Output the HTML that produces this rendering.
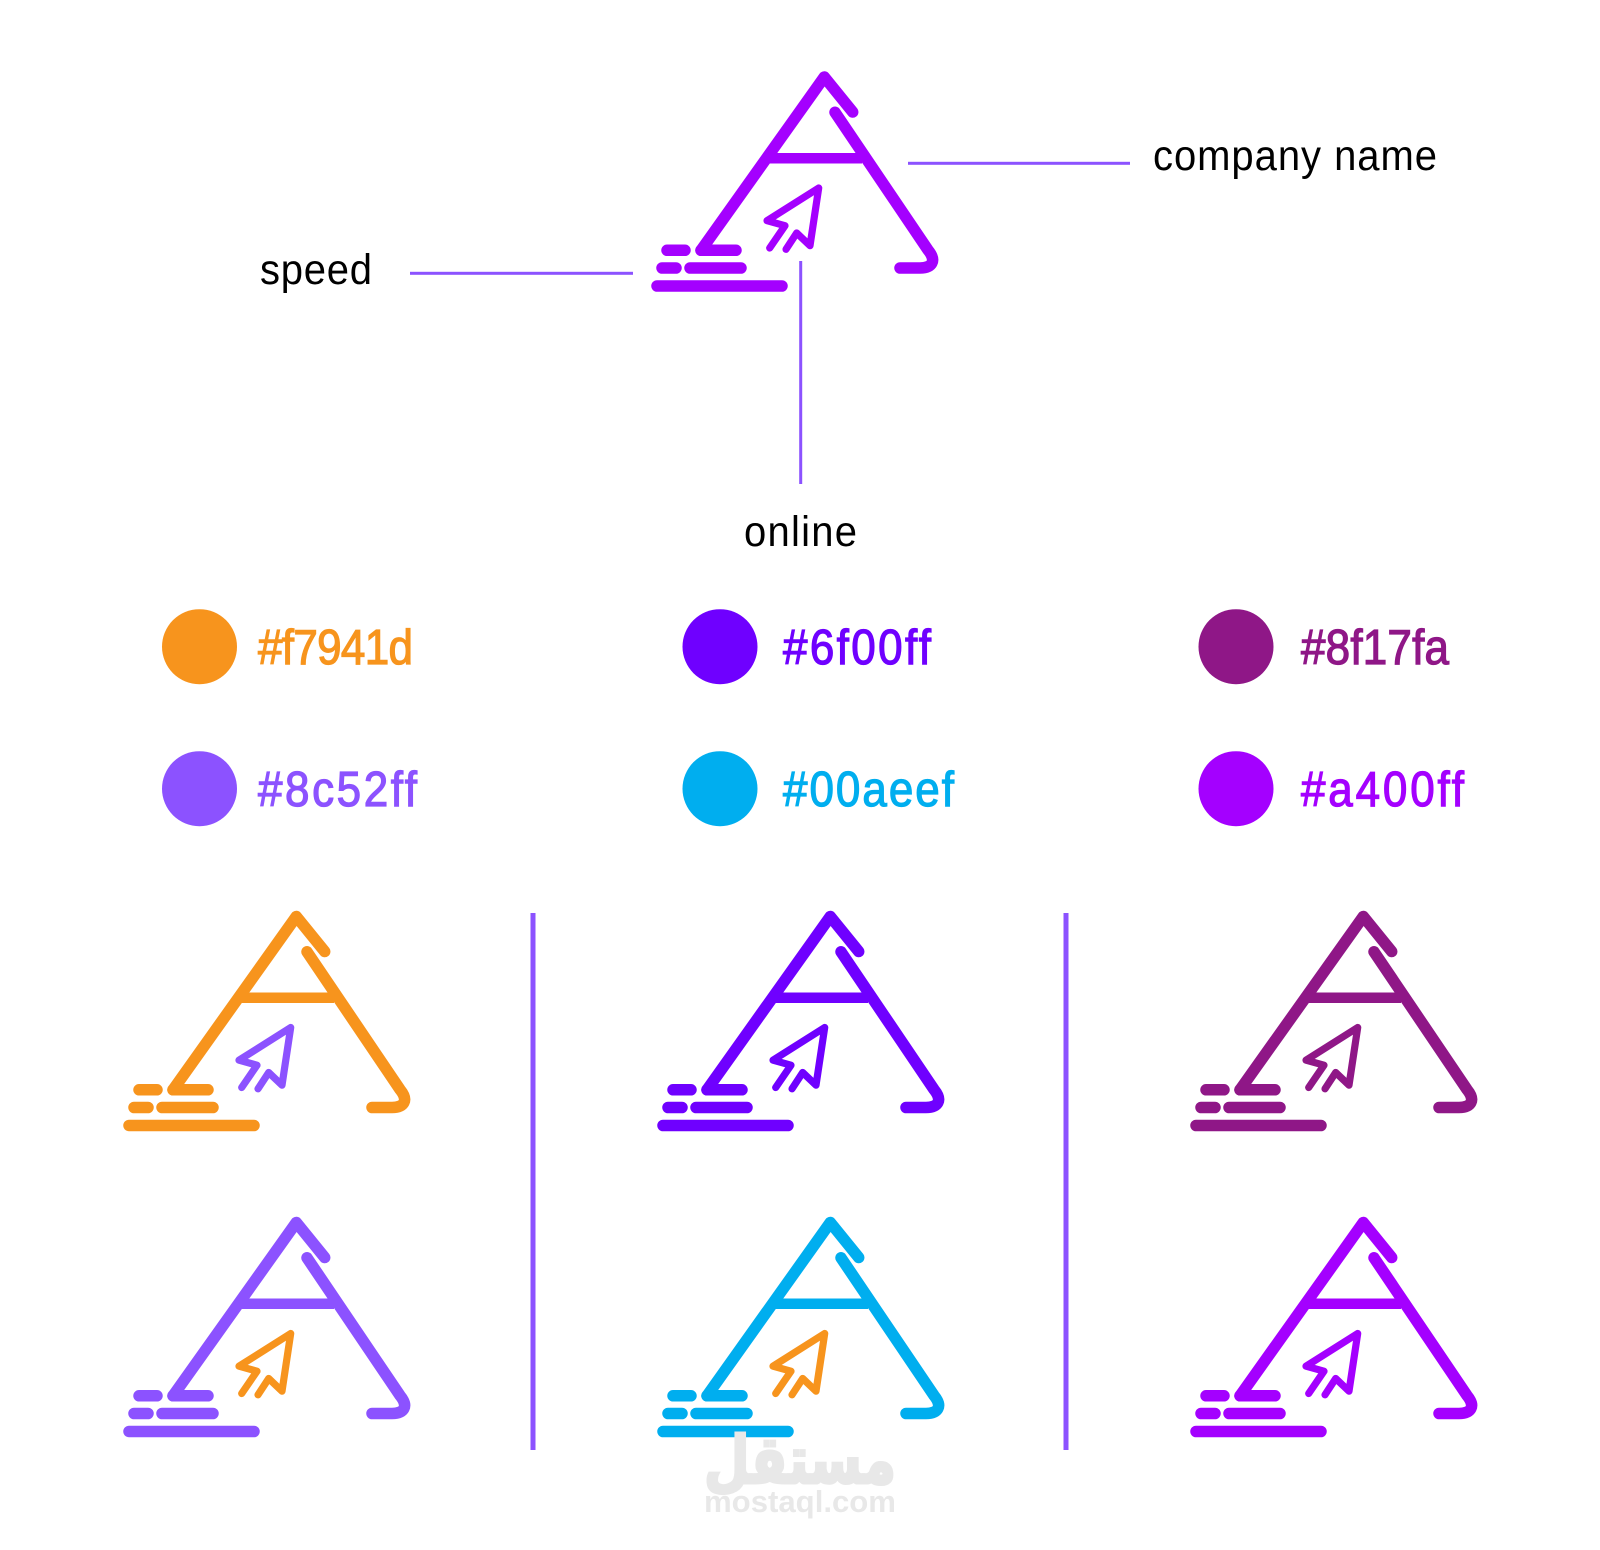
<!DOCTYPE html>
<html lang="en"><head><meta charset="utf-8"><title>Logo presentation</title>
<style>
html,body{margin:0;padding:0;background:#fff}
svg{display:block}
.l{font-family:"Liberation Sans",sans-serif;font-size:40px;fill:#000}
.h{font-family:"Liberation Sans",sans-serif;font-size:44px;stroke-width:1.1}
</style></head><body>
<svg xmlns="http://www.w3.org/2000/svg" width="1600" height="1550" viewBox="0 0 1600 1550">
<defs>
<g id="logo" fill="none" stroke-linecap="round" stroke-linejoin="round">
  <g stroke="currentColor">
    <path stroke-width="11.5" d="M852.7 112 L824.3 77 L701 250.3"/>
    <path stroke-width="11.5" d="M701 250.3 H736"/>
    <path stroke-width="11.5" d="M835 112.3 L928 250 C937 261 932 268 920 268 H900"/>
    <path stroke-width="10.5" d="M768 158.3 H862" stroke-linecap="butt"/>
    <path stroke-width="11.5" d="M667 250.3 H685 M662 268 H676 M690 268 H741 M657 286 H782"/>
  </g>
  <path stroke="var(--a,currentColor)" stroke-width="7.2" d="M769.7 248 L785 225.7 L767 220.7 L818.7 188 L810 245.7 L796.7 233 L786 249.3"/>
</g>
</defs>

<use href="#logo" style="color:#a400ff"/>

<g fill="#8c52ff">
<rect x="908" y="161.8" width="222" height="3"/>
<rect x="410" y="271.8" width="223" height="3"/>
<rect x="799.2" y="261" width="3" height="223"/>
<rect x="530.5" y="913" width="5" height="537"/>
<rect x="1063.5" y="913" width="5" height="537"/>
</g>

<text class="l" transform="translate(1153 170) scale(1 1.07)" textLength="284">company name</text>
<text class="l" transform="translate(260 284) scale(1 1.07)" textLength="112">speed</text>
<text class="l" transform="translate(744 546) scale(1 1.07)" textLength="113">online</text>

<circle cx="199.5" cy="646.7" r="37.5" fill="#f7941d"/>
<circle cx="199.5" cy="788.7" r="37.5" fill="#8c52ff"/>
<circle cx="720" cy="646.7" r="37.5" fill="#6f00ff"/>
<circle cx="720" cy="788.7" r="37.5" fill="#00aeef"/>
<circle cx="1236" cy="646.7" r="37.5" fill="#8f1787"/>
<circle cx="1236" cy="788.7" r="37.5" fill="#a400ff"/>

<text class="h" transform="translate(258 664) scale(1 1.12)" fill="#f7941d" stroke="#f7941d" textLength="155">#f7941d</text>
<text class="h" transform="translate(258 806) scale(1 1.12)" fill="#8c52ff" stroke="#8c52ff" textLength="159">#8c52ff</text>
<text class="h" transform="translate(783 664) scale(1 1.12)" fill="#6f00ff" stroke="#6f00ff" textLength="148">#6f00ff</text>
<text class="h" transform="translate(783 806) scale(1 1.12)" fill="#00aeef" stroke="#00aeef" textLength="171">#00aeef</text>
<text class="h" transform="translate(1301 664) scale(1 1.12)" fill="#8f1787" stroke="#8f1787" textLength="148">#8f17fa</text>
<text class="h" transform="translate(1301 806) scale(1 1.12)" fill="#a400ff" stroke="#a400ff" textLength="163">#a400ff</text>

<use href="#logo" transform="translate(-528 839.5)" style="color:#f7941d;--a:#8c52ff"/>
<use href="#logo" transform="translate(6 839.5)" style="color:#6f00ff"/>
<use href="#logo" transform="translate(539 839.5)" style="color:#8f1787"/>
<use href="#logo" transform="translate(-528 1145.5)" style="color:#8c52ff;--a:#f7941d"/>
<use href="#logo" transform="translate(6 1145.5)" style="color:#00aeef;--a:#f7941d"/>
<use href="#logo" transform="translate(539 1145.5)" style="color:#a400ff"/>

<text x="704" y="1483" font-family="'DejaVu Sans','Noto Sans CJK SC',sans-serif" font-weight="bold" font-size="66" fill="#e8e8e8" stroke="#e8e8e8" stroke-width="3" textLength="192" lengthAdjust="spacingAndGlyphs">مستقل</text>
<text x="704" y="1512" font-family="'Liberation Sans',sans-serif" font-weight="bold" font-size="31" fill="#e8e8e8" textLength="192" lengthAdjust="spacingAndGlyphs">mostaql.com</text>
</svg>
</body></html>
